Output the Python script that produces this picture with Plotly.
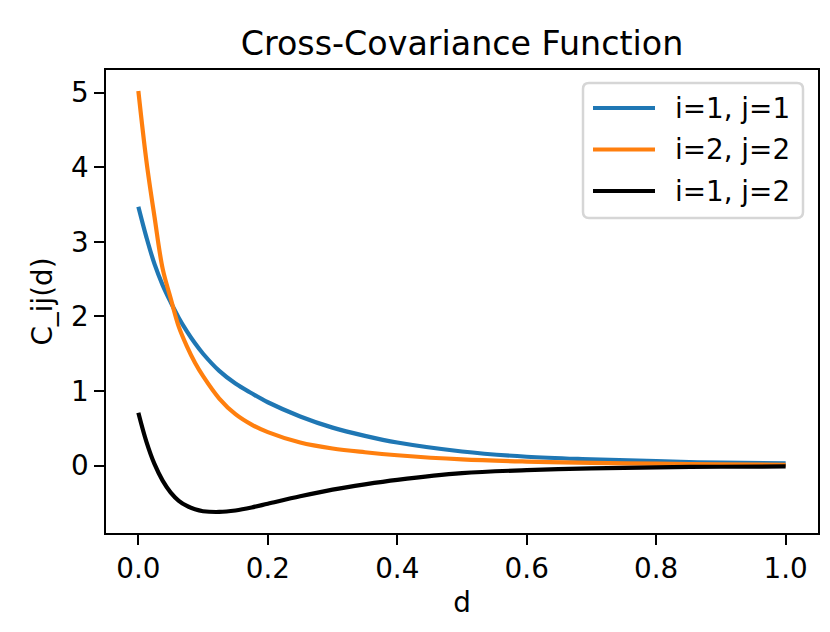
import plotly.graph_objects as go

# distance values (x)
d = [0.0, 0.0125, 0.025, 0.0375, 0.05, 0.0625, 0.075, 0.0875, 0.10, 0.125, 0.15, 0.175,
     0.20, 0.25, 0.30, 0.35, 0.40, 0.50, 0.60, 0.70, 0.80, 0.90, 1.00]

# C_11(d)
c11 = [3.47, 3.06, 2.70, 2.42, 2.19, 1.98, 1.80, 1.64, 1.50, 1.27, 1.10, 0.97,
       0.85, 0.66, 0.51, 0.40, 0.31, 0.19, 0.12, 0.085, 0.06, 0.04, 0.03]

# C_22(d)
c22 = [5.02, 4.08, 3.33, 2.64, 2.24, 1.86, 1.60, 1.38, 1.20, 0.90, 0.69, 0.55,
       0.45, 0.31, 0.23, 0.18, 0.14, 0.084, 0.055, 0.038, 0.027, 0.018, 0.012]

# C_12(d)
c12 = [0.71, 0.32, 0.02, -0.20, -0.36, -0.47, -0.54, -0.585, -0.61, -0.62, -0.60, -0.56,
       -0.51, -0.41, -0.32, -0.25, -0.19, -0.10, -0.06, -0.035, -0.022, -0.014, -0.01]

series_names = ["i=1, j=1", "i=2, j=2", "i=1, j=2"]
series_colors = ["#1f77b4", "#ff7f0e", "#000000"]

x_ticks = [0.0, 0.2, 0.4, 0.6, 0.8, 1.0]
y_ticks = [0, 1, 2, 3, 4, 5]

FONT = "DejaVu Sans"
W, H = 830, 632
ML, MR, MT, MB = 98, 20, 62, 107
PW, PH = W - ML - MR, H - MT - MB


def px2x(px):
    return (px - ML) / PW


def py2y(py):
    return (H - MB - py) / PH


fig = go.Figure()
for ys, name, col in zip([c11, c22, c12], series_names, series_colors):
    fig.add_trace(go.Scatter(x=d, y=ys, mode="lines", name=name, showlegend=False,
                             line=dict(color=col, width=4.2, shape="spline", smoothing=1.0)))

# legend drawn as box + sample lines + text
bx0, bx1, by0, by1, r = 575, 795, 75, 210, 6
path = (f"M{px2x(bx0 + r)},{py2y(by0)} L{px2x(bx1 - r)},{py2y(by0)} "
        f"Q{px2x(bx1)},{py2y(by0)} {px2x(bx1)},{py2y(by0 + r)} "
        f"L{px2x(bx1)},{py2y(by1 - r)} Q{px2x(bx1)},{py2y(by1)} {px2x(bx1 - r)},{py2y(by1)} "
        f"L{px2x(bx0 + r)},{py2y(by1)} Q{px2x(bx0)},{py2y(by1)} {px2x(bx0)},{py2y(by1 - r)} "
        f"L{px2x(bx0)},{py2y(by0 + r)} Q{px2x(bx0)},{py2y(by0)} {px2x(bx0 + r)},{py2y(by0)} Z")
shapes = [dict(type="path", xref="paper", yref="paper", path=path,
               line=dict(color="#d6d6d6", width=2.5), fillcolor="white", layer="above")]
annotations = []
row_y = [100, 141.5, 183]
for name, col, ry in zip(series_names, series_colors, row_y):
    shapes.append(dict(type="line", xref="paper", yref="paper",
                       x0=px2x(585), x1=px2x(647), y0=py2y(ry), y1=py2y(ry),
                       line=dict(color=col, width=4.2), layer="above"))
    annotations.append(dict(xref="paper", yref="paper", x=px2x(666), y=py2y(ry),
                            xanchor="left", yanchor="middle", text=name, showarrow=False,
                            borderpad=0, font=dict(family=FONT, size=27.8, color="black")))

axis_common = dict(showline=True, linecolor="black", linewidth=2.2, mirror=True,
                   ticks="outside", ticklen=9.7, tickwidth=2.2, tickcolor="black",
                   showgrid=False, zeroline=False,
                   tickfont=dict(family=FONT, size=27.8, color="black"))

fig.update_layout(
    width=W, height=H,
    margin=dict(l=ML, r=MR, t=MT, b=MB),
    paper_bgcolor="white", plot_bgcolor="white",
    font=dict(family=FONT, size=27.8, color="black"),
    showlegend=False,
    title=dict(text="Cross-Covariance Function", x=(ML + PW / 2) / W, xanchor="center",
               y=1 - 35 / H, yanchor="middle",
               font=dict(family=FONT, size=33.3, color="black")),
    xaxis=dict(range=[-0.05, 1.05], tickvals=x_ticks,
               ticktext=[f"{v:.1f}" for v in x_ticks],
               title=dict(text="d", standoff=8, font=dict(family=FONT, size=27.8)),
               **axis_common),
    yaxis=dict(range=[-0.902, 5.302], tickvals=y_ticks,
               ticktext=[str(v) for v in y_ticks],
               title=dict(text="C_ij(d)", standoff=10, font=dict(family=FONT, size=27.8)),
               **axis_common),
    shapes=shapes,
    annotations=annotations,
)

fig.write_html("out.html")
